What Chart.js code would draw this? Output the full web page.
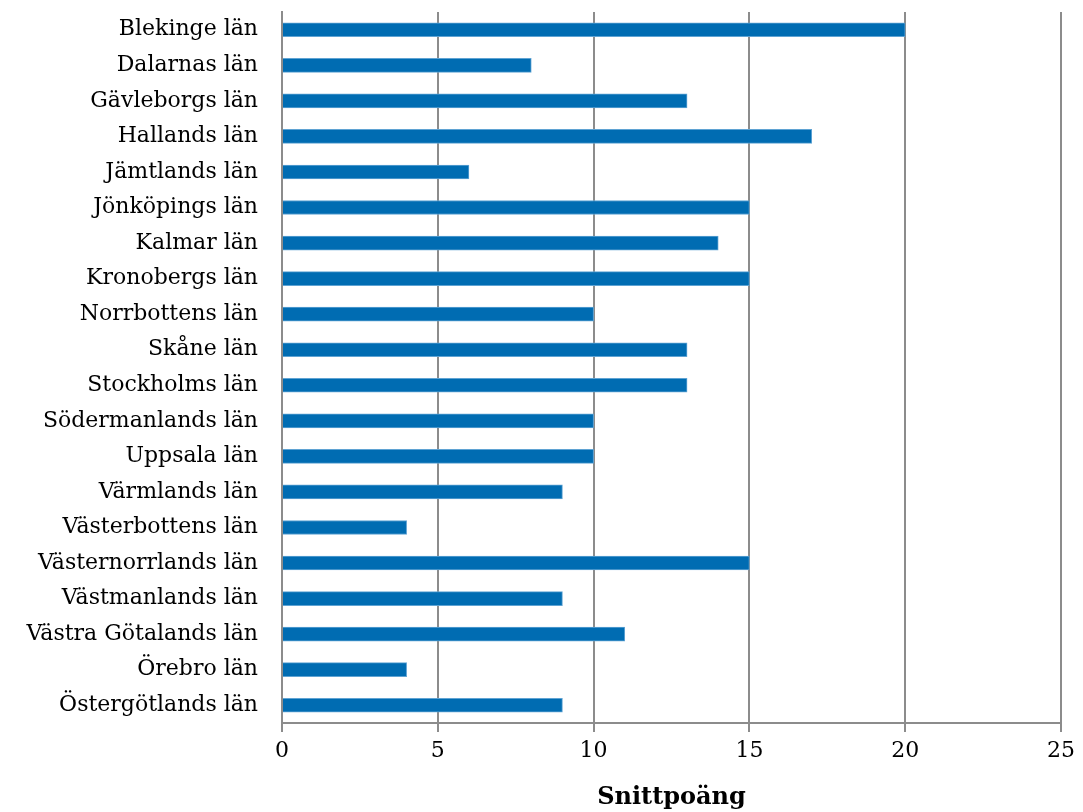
<!doctype html>
<html>

<head>
    <title>Snittpoäng per län</title>
    <script src="https://cdn.jsdelivr.net/npm/chart.js"></script>
    <style>
        html, body { margin: 0; padding: 0; background: #fff; }
    </style>
</head>

<body>

    <canvas id="lan" width="1083" height="812"></canvas>

    <script>
        var lan = ['Blekinge län', 'Dalarnas län', 'Gävleborgs län', 'Hallands län', 'Jämtlands län',
            'Jönköpings län', 'Kalmar län', 'Kronobergs län', 'Norrbottens län', 'Skåne län',
            'Stockholms län', 'Södermanlands län', 'Uppsala län', 'Värmlands län', 'Västerbottens län',
            'Västernorrlands län', 'Västmanlands län', 'Västra Götalands län', 'Örebro län', 'Östergötlands län'];
        var snittpoang = [20, 8, 13, 17, 6, 15, 14, 15, 10, 13, 13, 10, 10, 9, 4, 15, 9, 11, 4, 9];
        var xTicks = [0, 5, 10, 15, 20, 25];

        var serif = "'DejaVu Serif', 'Liberation Serif', serif";

        var chart = new Chart(document.getElementById('lan').getContext('2d'), {
            type: 'bar',
            data: {
                labels: lan,
                datasets: [{
                    label: 'Snittpoäng',
                    data: snittpoang,
                    backgroundColor: '#006cb2',
                    borderColor: '#5fa3d3',
                    borderWidth: 1,
                    barThickness: 14
                }]
            },
            options: {
                indexAxis: 'y',
                responsive: false,
                animation: false,
                layout: {
                    padding: { top: 12, right: 22, left: 0, bottom: 0 }
                },
                plugins: {
                    legend: { display: false },
                    tooltip: { enabled: false }
                },
                scales: {
                    x: {
                        min: xTicks[0],
                        max: xTicks[xTicks.length - 1],
                        afterBuildTicks: function (axis) {
                            axis.ticks = xTicks.map(v => ({ value: v }));
                        },
                        afterFit: function (axis) {
                            axis.height = 89;
                            axis.paddingLeft = 0;
                            axis.paddingRight = 0;
                        },
                        grid: {
                            color: '#8c8c8c',
                            lineWidth: 2,
                            tickLength: 9
                        },
                        border: { display: true, color: '#8c8c8c', width: 2 },
                        ticks: {
                            color: '#000',
                            padding: 6,
                            font: { family: serif, size: 22 }
                        },
                        title: {
                            display: true,
                            text: 'Snittpoäng',
                            color: '#000',
                            padding: { top: 6, bottom: 0 },
                            font: { family: serif, size: 24, weight: 'bold' }
                        }
                    },
                    y: {
                        afterFit: function (axis) {
                            axis.width = 282;
                            axis.paddingTop = 0;
                            axis.paddingBottom = 0;
                        },
                        grid: { display: false, drawTicks: false },
                        border: { display: true, color: '#8c8c8c', width: 2 },
                        ticks: {
                            color: '#000',
                            padding: 24,
                            autoSkip: false,
                            font: { family: serif, size: 22 }
                        }
                    }
                }
            }
        });
    </script>
</body>

</html>
